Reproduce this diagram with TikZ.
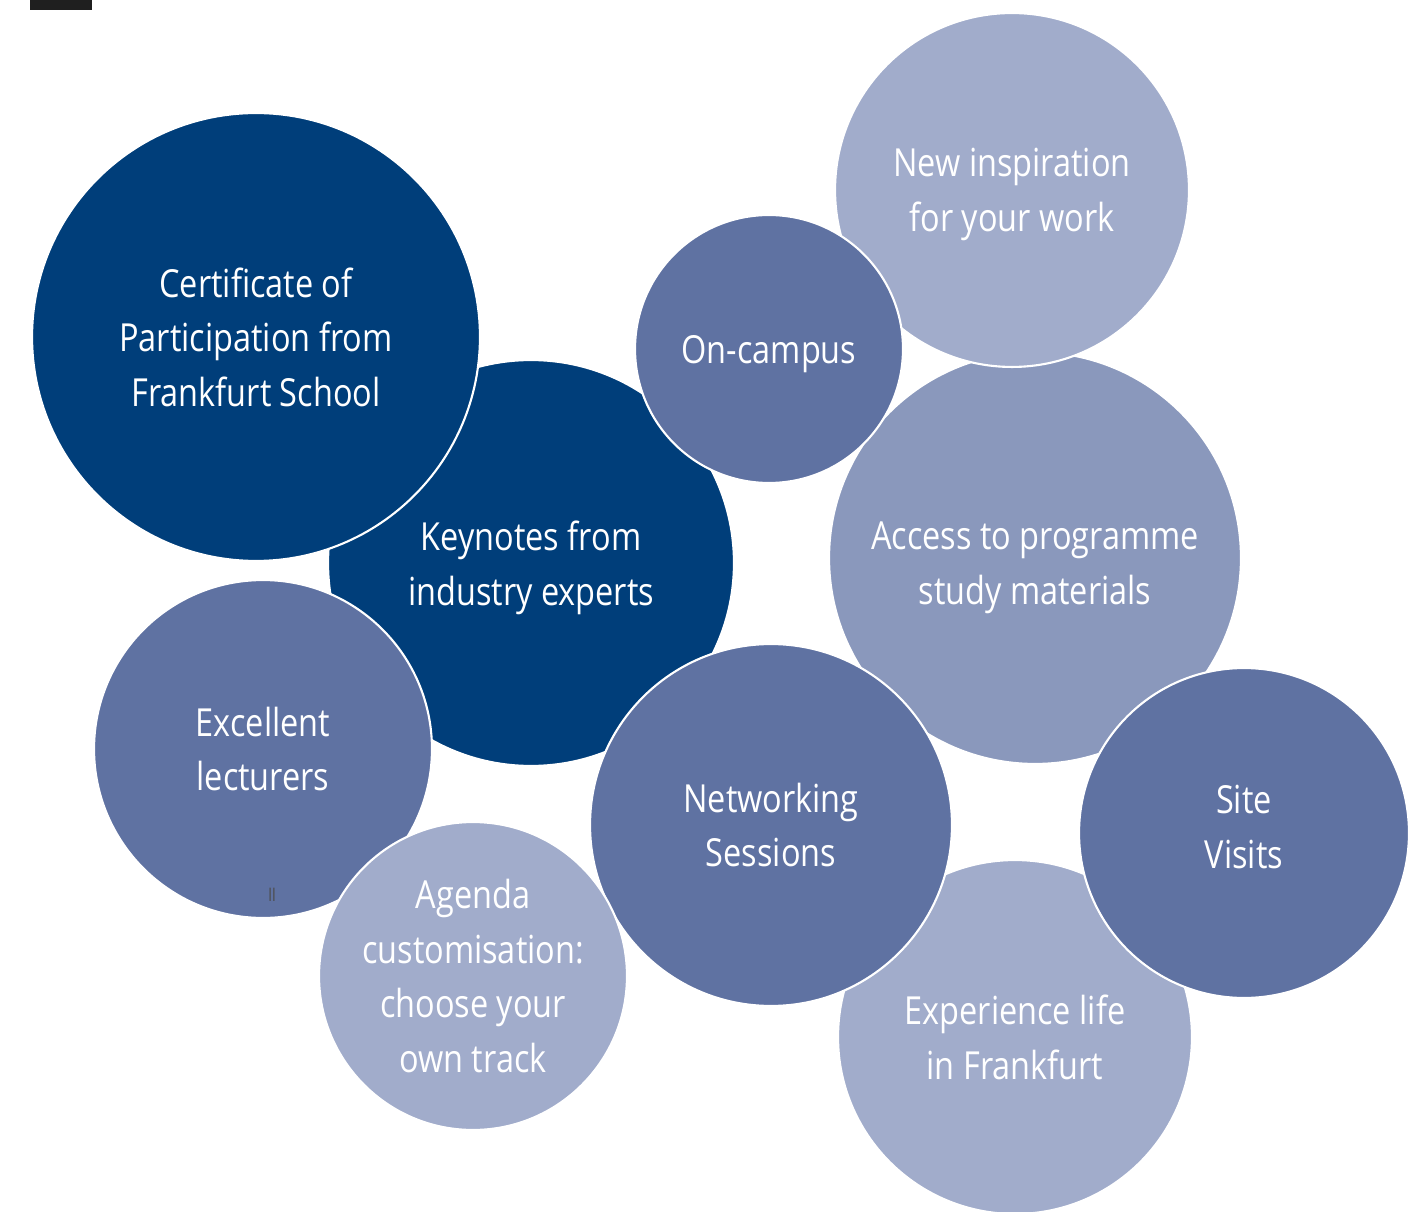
\documentclass[tikz,border=0pt]{standalone}
\usepackage{fontspec}
\setmainfont{Open Sans}[FakeStretch=0.84]
\usetikzlibrary{calc}
\definecolor{navy}{RGB}{0,62,122}
\definecolor{slate}{RGB}{95,114,162}
\definecolor{haze}{RGB}{161,172,203}
\definecolor{mist}{RGB}{138,152,188}
\tikzset{
	bubbletext/.style={text=white, align=center, text depth=0pt,
		font=\fontsize{22}{31}\selectfont},
	bubble/.style={circle, draw=white, line width=1.2pt, inner sep=0pt, outer sep=0pt, bubbletext},
}

\begin{document}
\begin{tikzpicture}[x=0.02cm, y=-0.02cm]
			%%%%% START %%%%%
			\useasboundingbox (0, 0) rectangle (1426, 1212);
			
			\draw[fill=black!88, draw=none] (30, 0) rectangle (92, 10);
			
			\node[bubble, fill=navy, minimum size=8.12cm] (keynote) at (531, 563) {Keynotes from\\industry experts};
			\node[bubble, fill=navy, minimum size=8.96cm] (cert) at (256, 337) {Certificate of\\Participation from\\Frankfurt School};
			
			\node[bubble, fill=slate, minimum size=6.76cm] (lecturer) at (263, 749) {Excellent\\lecturers};
			\node[text=black!70, font=\fontsize{10}{10}\selectfont, inner sep=0pt] (mark) at (272, 895) {ll};
			
			\node[bubble, fill=mist, minimum size=8.24cm] (access) at (1035, 558) {};
			\node[bubbletext] (accesstext) at (1035, 563) {Access to programme\\study materials};
			\node[bubble, fill=haze, minimum size=7.08cm] (inspire) at (1012, 190) {New inspiration\\for your work};
			\node[bubble, fill=slate, minimum size=5.36cm] (campus) at (769, 349) {On-campus};
			
			\node[bubble, fill=haze, minimum size=7.08cm] (life) at (1015, 1037) {Experience life\\in Frankfurt};
			\node[bubble, fill=slate, minimum size=7.24cm] (network) at (771, 825) {Networking\\Sessions};
			\node[bubble, fill=slate, minimum size=6.6cm] (site) at (1244, 833) {};
			\node[bubbletext] (sitetext) at (1244, 827) {Site\\Visits};
			
			\node[bubble, fill=haze, minimum size=6.16cm] (agenda) at (473, 976) {Agenda\\customisation:\\choose your\\own track};
			
			%%%%% END %%%%%
\end{tikzpicture}
\end{document}
